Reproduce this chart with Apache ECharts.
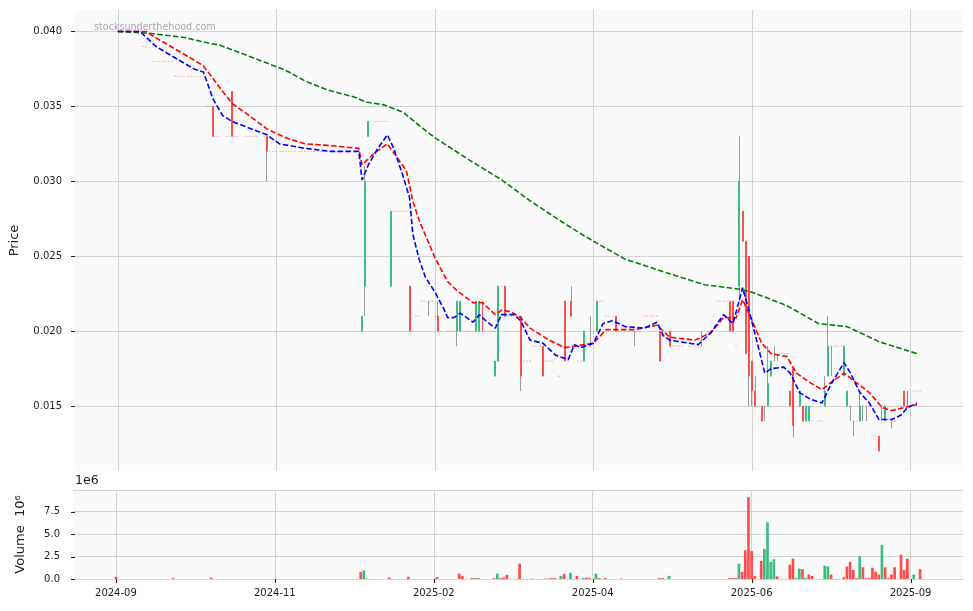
<!DOCTYPE html>
<html><head><meta charset="utf-8">
<script src="https://cdn.jsdelivr.net/npm/echarts@6/dist/echarts.min.js"></script>
<style>html,body{margin:0;padding:0;background:#fff}#c{width:973px;height:611px}</style>
</head><body><div id="c"></div>
<script>
// ---------- tick labels (row index -> month label) ----------
const tickIndex = [0, 50, 100, 150, 200, 250];
const tickLabels = ['2024-09', '2024-11', '2025-02', '2025-04', '2025-06', '2025-09'];
const priceTicks = [0.015, 0.020, 0.025, 0.030, 0.035, 0.040];
const volumeTicks = [0, 2.5, 5.0, 7.5];

// ---------- daily closes (one per trading row) ----------
const close = [
 .040,.040,.040,.040,.040,.040,.040,.040,.039,.039,   // 0
 .039,.038,.038,.038,.038,.038,.038,.038,.037,.037,   // 10
 .037,.037,.037,.037,.037,.037,.037,.037,.035,.035,   // 20
 .033,.033,.033,.033,.033,.033,.033,.033,.033,.033,   // 30
 .033,.033,.033,.033,.033,.033,.033,.032,.032,.032,   // 40
 .032,.032,.032,.032,.032,.032,.032,.032,.032,.032,   // 50
 .032,.032,.032,.032,.032,.032,.032,.032,.032,.032,   // 60
 .032,.032,.032,.032,.032,.032,.032,.021,.030,.034,   // 70
 .034,.034,.034,.034,.034,.034,.028,.028,.028,.028,   // 80
 .028,.028,.020,.020,.021,.021,.022,.022,.022,.022,   // 90
 .021,.020,.020,.019,.020,.020,.020,.022,.022,.020,   // 100
 .020,.020,.020,.022,.022,.020,.020,.020,.020,.018,   // 110
 .023,.023,.021,.021,.021,.021,.021,.017,.018,.018,   // 120
 .018,.019,.019,.019,.017,.018,.018,.018,.018,.017,   // 130
 .018,.018,.018,.021,.021,.018,.018,.020,.019,.019,   // 140
 .019,.022,.022,.022,.021,.021,.021,.020,.020,.020,   // 150
 .020,.020,.020,.020,.020,.020,.021,.021,.021,.021,   // 160
 .021,.018,.018,.018,.019,.019,.019,.019,.019,.019,   // 170
 .019,.019,.019,.019,.019,.020,.020,.020,.021,.022,   // 180
 .022,.022,.022,.020,.020,.019,.030,.026,.0185,.017,  // 190
 .016,.015,.015,.014,.015,.0165,.018,.0185,.0185,.0185, // 200
 .0185,.0185,.015,.0137,.014,.016,.014,.015,.015,.014,  // 210
 .014,.014,.014,.016,.019,.019,.019,.019,.019,.019,   // 220
 .016,.015,.014,.014,.015,.015,.015,.015,.013,.013,   // 230
 .012,.015,.015,.0145,.014,.014,.015,.015,.015,.015,  // 240
 .015,.016,.016,.016                                  // 250
];
// open / high / low: null = no trade range that day (price stayed at the close)
const open = [
 null,null,null,null,null,null,null,null,null,null,
 null,null,null,null,null,null,null,null,null,null,
 null,null,null,null,null,null,null,null,null,null,
 .035,null,null,null,null,null,.036,null,null,null,
 null,null,null,null,null,null,null,.033,null,null,
 null,null,null,null,null,null,null,null,null,null,
 null,null,null,null,null,null,null,null,null,null,
 null,null,null,null,null,null,null,.020,.023,.033,
 null,null,null,null,null,null,.023,null,null,null,
 null,null,.023,null,null,null,null,null,.022,null,
 null,.021,null,null,null,null,null,.020,.020,null,
 null,null,null,.020,.020,.022,null,null,null,.017,
 .018,null,.023,null,null,null,null,.021,null,null,
 null,null,null,null,.019,null,null,null,null,null,
 null,.022,null,.022,null,null,null,.018,null,.019,
 null,.020,null,null,null,null,null,.021,null,null,
 null,null,null,.020,null,null,null,null,null,null,
 null,.020,null,null,.020,null,null,null,null,null,
 null,null,null,null,.019,null,null,null,null,null,
 null,null,null,.022,.022,null,.023,.028,.026,.025,
 .018,.016,null,.015,.015,.015,.017,.0185,.0185,null,
 null,null,.016,.0175,null,.015,.015,.014,.014,null,
 null,null,null,.015,.017,.019,null,null,null,.017,
 .015,.015,.014,null,.014,.015,.015,null,null,null,
 .013,.015,.014,null,.014,null,null,null,.016,.016,
 null,null,null,null
];
const high = [
 null,null,null,null,null,null,null,null,null,null,
 null,null,null,null,null,null,null,null,null,null,
 null,null,null,null,null,null,null,null,null,null,
 .035,null,null,null,null,null,.036,null,null,null,
 null,null,null,null,null,null,null,.033,null,null,
 null,null,null,null,null,null,null,null,null,null,
 null,null,null,null,null,null,null,null,null,null,
 null,null,null,null,null,null,null,.021,.031,.034,
 null,null,null,null,null,null,.028,null,null,null,
 null,null,.023,null,null,null,null,null,.022,null,
 null,.022,null,null,null,null,null,.022,.022,null,
 null,null,null,.022,.022,.022,null,null,null,.018,
 .023,null,.023,null,null,null,null,.021,null,null,
 null,null,null,null,.019,null,null,null,null,null,
 null,.022,null,.023,null,null,null,.020,null,.021,
 null,.022,null,null,null,null,null,.021,null,null,
 null,null,null,.020,null,null,null,null,null,null,
 null,.020,null,null,.020,null,null,null,null,null,
 null,null,null,null,.020,null,null,null,null,null,
 null,null,null,.022,.022,null,.033,.028,.026,.025,
 .018,.017,null,.015,.015,.019,.018,.019,.0185,null,
 null,null,.016,.0175,null,.016,.015,.015,.015,null,
 null,null,null,.017,.021,.019,null,null,null,.019,
 .016,.015,.014,null,.016,.015,.015,null,null,null,
 .013,.015,.015,null,.014,null,null,null,.016,.016,
 null,null,null,null
];
const low = [
 null,null,null,null,null,null,null,null,null,null,
 null,null,null,null,null,null,null,null,null,null,
 null,null,null,null,null,null,null,null,null,null,
 .033,null,null,null,null,null,.033,null,null,null,
 null,null,null,null,null,null,null,.030,null,null,
 null,null,null,null,null,null,null,null,null,null,
 null,null,null,null,null,null,null,null,null,null,
 null,null,null,null,null,null,null,.020,.021,.033,
 null,null,null,null,null,null,.023,null,null,null,
 null,null,.020,null,null,null,null,null,.021,null,
 null,.020,null,null,null,null,null,.019,.020,null,
 null,null,null,.020,.020,.020,null,null,null,.017,
 .018,null,.021,null,null,null,null,.016,null,null,
 null,null,null,null,.017,null,null,null,null,null,
 null,.018,null,.021,null,null,null,.018,null,.019,
 null,.020,null,null,null,null,null,.020,null,null,
 null,null,null,.019,null,null,null,null,null,null,
 null,.018,null,null,.019,null,null,null,null,null,
 null,null,null,null,.019,null,null,null,null,null,
 null,null,null,.020,.020,null,.022,.026,.0185,.015,
 .015,.015,null,.014,.014,.015,.017,.018,.018,null,
 null,null,.015,.0129,null,.015,.014,.014,.014,null,
 null,null,null,.015,.017,.017,null,null,null,.017,
 .015,.014,.013,null,.014,.014,.014,null,null,null,
 .012,.014,.014,null,.0135,null,null,null,.015,.015,
 null,null,null,null
];
// volume, in millions of shares
const volume = [
 0.25,0,0,0,0,0,0,0,0,0,
 0,0,0,0,0,0,0,0,0.1,0,
 0,0,0,0,0,0,0,0,0,0,
 0.15,0,0,0,0,0,0,0,0,0,
 0,0,0,0,0,0,0,0,0,0,
 0,0,0,0,0,0,0,0,0,0,
 0,0,0,0,0,0,0,0,0,0,
 0,0,0,0,0,0,0,0.77,0.96,0.05,
 0,0,0,0,0,0,0.15,0,0,0,
 0,0,0.25,0,0,0,0,0,0,0,
 0,0.2,0,0,0,0,0,0,0.6,0.35,
 0,0,0.1,0.1,0.1,0,0,0,0,0.1,
 0.6,0.1,0.15,0.45,0,0,0,1.7,0,0,
 0,0.05,0,0,0,0.05,0.05,0.1,0.1,0,
 0.35,0.55,0,0.7,0,0.35,0,0.1,0.15,0.1,
 0,0.6,0.1,0,0.1,0,0,0,0,0.05,
 0,0,0,0,0,0,0,0,0,0,
 0,0.1,0.1,0,0.35,0,0,0,0,0,
 0,0,0,0,0,0,0,0,0,0,
 0,0,0,0.1,0.1,0.1,1.7,0.8,3.2,9.1,
 3.1,0.35,0,2.0,3.35,6.3,1.9,2.2,0.3,0,
 0,0,1.6,2.25,0.1,1.15,1.1,0.1,0.5,0.35,
 0,0,0,1.47,1.4,0.5,0,0,0,0.2,
 1.4,1.9,1.0,0.1,2.55,1.3,0.1,0.1,1.25,0.8,
 0.5,3.8,1.3,0.1,0.5,1.3,0,2.7,1.0,2.25,
 0,0.5,0,1.1
];
// moving averages: [row, value]
const maShort = [[0,.0400],[7,.0400],[12,.0390],[20,.0380],[24,.0375],[27,.0373],[30,.0355],[33,.0344],[36,.0340],[47,.0331],[51,.0325],[59,.0322],[67,.0320],[76,.0320],[77,.0301],[79,.0311],[82,.0322],[85,.0331],[87,.0322],[90,.0303],[92,.0289],[93,.0265],[95,.0248],[97,.0236],[100,.0226],[103,.0214],[104,.0209],[106,.0209],[108,.0212],[112,.0206],[114,.0211],[116,.0207],[119,.0202],[121,.0211],[125,.0211],[127,.0207],[130,.0194],[134,.0192],[138,.0184],[142,.0181],[144,.0191],[146,.0189],[150,.0192],[153,.0205],[156,.0207],[160,.0203],[166,.0202],[170,.0206],[172,.0197],[174,.0194],[183,.0191],[187,.0199],[191,.0211],[194,.0205],[197,.0229],[199,.0214],[202,.0189],[204,.0172],[206,.0175],[210,.0176],[212,.0172],[215,.0159],[218,.0155],[222,.0152],[225,.0165],[229,.0179],[231,.0172],[234,.0159],[237,.0152],[240,.0141],[244,.0141],[247,.0144],[249,.0149],[252,.0152]];
const maMid = [[0,.0400],[9,.0400],[11,.0397],[24,.0381],[27,.0377],[32,.0363],[36,.0352],[42,.0343],[47,.0335],[53,.0329],[59,.0325],[66,.0324],[76,.0322],[77,.0311],[81,.0319],[85,.0325],[88,.0316],[91,.0307],[93,.0287],[95,.0274],[100,.0249],[104,.0233],[107,.0227],[112,.0219],[115,.0219],[119,.0211],[121,.0214],[124,.0213],[127,.0209],[130,.0202],[136,.0194],[141,.0189],[144,.0190],[147,.0191],[150,.0192],[154,.0201],[163,.0201],[170,.0204],[174,.0196],[182,.0194],[187,.0199],[191,.0209],[195,.0209],[197,.0221],[200,.0207],[203,.0192],[206,.0185],[211,.0183],[214,.0172],[218,.0166],[222,.0161],[225,.0166],[229,.0172],[232,.0167],[237,.0159],[241,.0149],[244,.0147],[248,.0149],[252,.0151]];
const maLong = [[0,.0400],[9,.0399],[21,.0396],[29,.0392],[32,.0391],[42,.0383],[53,.0374],[59,.0367],[66,.0361],[75,.0356],[78,.0353],[84,.0351],[90,.0346],[94,.0339],[100,.0329],[111,.0314],[121,.0301],[130,.0287],[140,.0273],[146,.0265],[150,.0260],[160,.0248],[173,.0239],[185,.0231],[196,.0228],[200,.0226],[211,.0217],[221,.0205],[230,.0203],[240,.0193],[252,.0185]];

// ---------- build series data ----------
const UP = '#3dbd82', DOWN = '#ff4d4d', FLAT = 'rgba(255,90,90,0.45)';
const wickData = [], bodyData = [], volData = [];
for (let i = 0; i < close.length; i++) {
  const c = close[i];
  const o = open[i] ?? c, h = high[i] ?? c, l = low[i] ?? c;
  if (h !== l) wickData.push([i, o, c, l, h]);
  const col = c > o ? UP : (c < o ? DOWN : FLAT);
  bodyData.push({ value: [i, o, c, Math.min(o, c), Math.max(o, c)],
    itemStyle: { color: col, color0: col, borderColor: col, borderColor0: col } });
  if (volume[i] > 0) {
    const up = i > 0 && c > close[i - 1];
    volData.push({ value: [i, volume[i]], itemStyle: { color: up ? UP : DOWN } });
  }
}

const FONT = 'DejaVu Sans';
const xMin = -13.5, xMax = 266.5;
const splitStyle = { show: true, lineStyle: { color: '#d4d4d4', width: 1 } };
const dash = [5.5, 2.4];
function maSeries(name, data, color) {
  return { name, type: 'line', xAxisIndex: 0, yAxisIndex: 0, data, showSymbol: false, symbol: 'none',
    lineStyle: { color, width: 1.6, type: dash }, z: 5, silent: true, animation: false };
}

const chart = echarts.init(document.getElementById('c'), null, { renderer: 'canvas' });
chart.setOption({
  animation: false,
  backgroundColor: '#ffffff',
  textStyle: { fontFamily: FONT },
  grid: [
    { left: 73, top: 10, width: 890, height: 461, show: true, backgroundColor: '#fafafa', borderWidth: 0 },
    { left: 73, top: 490, width: 890, height: 89, show: true, backgroundColor: '#fafafa', borderWidth: 0 }
  ],
  xAxis: [
    { type: 'value', gridIndex: 0, min: xMin, max: xMax, position: 'bottom',
      axisLine: { show: false, onZero: false }, axisTick: { show: false, customValues: tickIndex },
      axisLabel: { show: false, customValues: tickIndex }, splitLine: splitStyle },
    { type: 'value', gridIndex: 1, min: xMin, max: xMax, position: 'bottom',
      axisLine: { show: false, onZero: false },
      axisTick: { show: false, customValues: tickIndex },
      axisLabel: { show: true, customValues: tickIndex, fontSize: 10, color: '#222', fontFamily: FONT, margin: 9,
        formatter: v => tickLabels[tickIndex.indexOf(Math.round(v))] || '' },
      splitLine: splitStyle }
  ],
  yAxis: [
    { type: 'value', gridIndex: 0, min: 0.010667, max: 0.041433, position: 'left',
      axisLine: { show: false, onZero: false },
      axisTick: { show: false, customValues: priceTicks },
      axisLabel: { customValues: priceTicks, fontSize: 10, color: '#222', fontFamily: FONT, margin: 13,
        formatter: v => v.toFixed(3) },
      splitLine: splitStyle,
      name: 'Price', nameLocation: 'middle', nameGap: 54,
      nameTextStyle: { fontSize: 13, color: '#222', fontFamily: FONT } },
    { type: 'value', gridIndex: 1, min: 0, max: 9.9, interval: 2.5, position: 'left',
      axisLine: { show: false, onZero: false },
      axisTick: { show: false },
      axisLabel: { fontSize: 10, color: '#222', fontFamily: FONT, margin: 13, formatter: v => v.toFixed(1),
        showMaxLabel: false },
      splitLine: splitStyle,
      name: 'Volume  10\u2076', nameLocation: 'middle', nameGap: 46,
      nameTextStyle: { fontSize: 13, color: '#222', fontFamily: FONT } }
  ],
  series: [
    { name: 'wick', type: 'candlestick', xAxisIndex: 0, yAxisIndex: 0, data: wickData,
      encode: { x: 0, y: [1, 2, 3, 4] }, barWidth: 0.2, silent: true, z: 2,
      itemStyle: { color: 'rgba(0,0,0,0)', color0: 'rgba(0,0,0,0)', borderColor: '#9a9a9a', borderColor0: '#9a9a9a', borderWidth: 1 } },
    { name: 'body', type: 'candlestick', xAxisIndex: 0, yAxisIndex: 0, data: bodyData,
      encode: { x: 0, y: [1, 2, 3, 4] }, barWidth: 1.4, silent: true, z: 3,
      itemStyle: { borderWidth: 1 } },
    maSeries('long', maLong, '#008000'),
    maSeries('mid', maMid, '#ff0000'),
    maSeries('short', maShort, '#0000ff'),
    { name: 'volume', type: 'bar', xAxisIndex: 1, yAxisIndex: 1, data: volData, barWidth: 2.7, silent: true }
  ]
});

// tick marks (outside the plot, matplotlib style), placed through the axes' own scales
const TICK = 4, tickColor = '#222';
const gfx = [
  { type: 'text', left: 94, top: 22, silent: true,
    style: { text: 'stocksunderthehood.com', fontSize: 9.6, fontFamily: FONT, fill: 'rgba(140,140,140,0.75)' } },
  { type: 'text', left: 75, top: 474, silent: true,
    style: { text: '1e6', fontSize: 12.5, fontFamily: FONT, fill: '#222' } }
];
const leftX = chart.convertToPixel({ xAxisIndex: 0 }, xMin);
priceTicks.forEach(v => {
  const y = Math.round(chart.convertToPixel({ yAxisIndex: 0 }, v)) + 0.5;
  gfx.push({ type: 'line', silent: true, shape: { x1: leftX - TICK, y1: y, x2: leftX, y2: y },
    style: { stroke: tickColor, lineWidth: 1 } });
});
volumeTicks.forEach(v => {
  const y = Math.round(chart.convertToPixel({ yAxisIndex: 1 }, v)) + 0.5;
  gfx.push({ type: 'line', silent: true, shape: { x1: leftX - TICK, y1: y, x2: leftX, y2: y },
    style: { stroke: tickColor, lineWidth: 1 } });
});
const bottomY = chart.convertToPixel({ yAxisIndex: 1 }, 0);
tickIndex.forEach(v => {
  const x = Math.round(chart.convertToPixel({ xAxisIndex: 1 }, v)) + 0.5;
  gfx.push({ type: 'line', silent: true, shape: { x1: x, y1: bottomY, x2: x, y2: bottomY + TICK },
    style: { stroke: tickColor, lineWidth: 1 } });
});
chart.setOption({ graphic: gfx });
</script>
</body></html>
